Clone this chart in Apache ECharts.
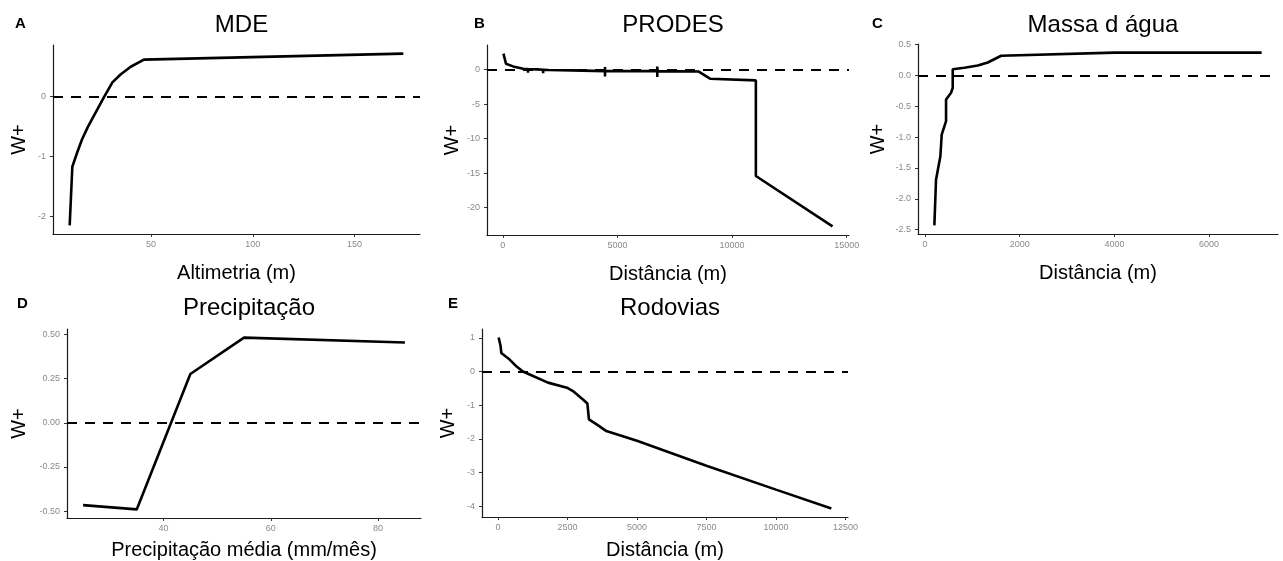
<!DOCTYPE html>
<html><head><meta charset="utf-8">
<script src="https://cdn.jsdelivr.net/npm/echarts@6/dist/echarts.min.js"></script>
<style>html,body{margin:0;padding:0;background:#fff}#c{width:1283px;height:561px}</style>
</head><body><div id="c"></div>
<script>
const FONT = "'Liberation Sans', Arial, sans-serif";

// ---- text ----
const panelLetters = ['A', 'B', 'C', 'D', 'E'];
const panelTitles = ['MDE', 'PRODES', 'Massa d água', 'Precipitação', 'Rodovias'];
const xTitles = ['Altimetria (m)', 'Distância (m)', 'Distância (m)', 'Precipitação média (mm/mês)', 'Distância (m)'];
const yTitle = 'W+';

// ---- data ----
const mdeX = [10, 11.3, 13.5, 16, 19, 23, 27, 31, 35, 40, 46.5, 174];
const mdeY = [-2.15, -1.17, -0.95, -0.72, -0.5, -0.25, 0, 0.24, 0.37, 0.5, 0.62, 0.72];

const prodesX = [30, 140, 200, 450, 890, 1100, 1100, 1100, 1500, 1760, 1760, 1760, 2000, 3000, 4460, 4460, 4460, 4460, 5500, 6740, 6740, 6740, 6740, 8530, 9040, 11040, 11040, 14385];
const prodesY = [2.33, 0.87, 0.6, 0.48, 0.15, 0.1, -0.45, 0.1, 0.05, 0, -0.5, 0, -0.05, -0.1, -0.2, 0.38, -0.98, -0.2, -0.2, -0.2, 0.48, -1.07, -0.2, -0.25, -1.3, -1.55, -15.4, -22.7];

const aguaX = [197, 232, 324, 352, 444, 444, 550, 585, 585, 831, 1114, 1325, 1608, 4006, 7110];
const aguaY = [-2.43, -1.69, -1.31, -0.96, -0.74, -0.39, -0.28, -0.2, 0.1, 0.125, 0.16, 0.21, 0.32, 0.37, 0.37];

const precX = [25, 35, 45, 55, 85];
const precY = [-0.466, -0.49, 0.276, 0.482, 0.454];

const rodX = [25, 97, 121, 421, 683, 899, 1140, 1799, 2482, 2698, 3057, 3216, 3273, 3550, 3899, 5000, 7500, 10000, 11993];
const rodY = [1.01, 0.75, 0.55, 0.355, 0.14, 0, -0.09, -0.33, -0.48, -0.58, -0.83, -0.95, -1.42, -1.57, -1.77, -2.06, -2.8, -3.51, -4.07];

// ---- tick labels ----
const mdeTicksX = [50, 100, 150];
const mdeTicksY = [-2, -1, 0];
const prodesTicksX = [0, 5000, 10000, 15000];
const prodesTicksY = [-20, -15, -10, -5, 0];
const aguaTicksX = [0, 2000, 4000, 6000];
const aguaTicksY = [-2.5, -2.0, -1.5, -1.0, -0.5, 0.0, 0.5];
const precTicksX = [40, 60, 80];
const precTicksY = [-0.5, -0.25, 0, 0.25, 0.5];
const rodTicksX = [0, 2500, 5000, 7500, 10000, 12500];
const rodTicksY = [-4, -3, -2, -1, 0, 1];

const panels = [
  {x: mdeX, y: mdeY, tx: mdeTicksX, ty: mdeTicksY, yDec: 0, grid: {left: 53, top: 45, width: 367, height: 189}, yGap: 24, xGap: 29},
  {x: prodesX, y: prodesY, tx: prodesTicksX, ty: prodesTicksY, yDec: 0, grid: {left: 487, top: 45, width: 362, height: 190}, yGap: 25, xGap: 29},
  {x: aguaX, y: aguaY, tx: aguaTicksX, ty: aguaTicksY, yDec: 1, grid: {left: 918, top: 44, width: 360, height: 190}, yGap: 30, xGap: 29},
  {x: precX, y: precY, tx: precTicksX, ty: precTicksY, yDec: 2, grid: {left: 67, top: 329, width: 354, height: 189}, yGap: 38, xGap: 22},
  {x: rodX, y: rodY, tx: rodTicksX, ty: rodTicksY, yDec: 0, grid: {left: 482, top: 329, width: 366, height: 188}, yGap: 24, xGap: 23}
];
const letterPos = [[10, 11], [469, 11], [867, 11], [12, 291], [443, 291]];

function expand(arr, include0) {
  let mn = Math.min(...arr), mx = Math.max(...arr);
  if (include0) { mn = Math.min(mn, 0); mx = Math.max(mx, 0); }
  const p = (mx - mn) * 0.05;
  return [mn - p, mx + p];
}

const grids = [], xAxes = [], yAxes = [], series = [], titles = [];
panels.forEach((p, i) => {
  grids.push(Object.assign({containLabel: false, outerBoundsMode: 'none'}, p.grid));
  const xr = expand(p.x, false), yr = expand(p.y, true);
  const common = {
    type: 'value', gridIndex: i, splitLine: {show: false},
    axisLine: {show: true, onZero: false, lineStyle: {color: '#1a1a1a', width: 1.2}},
    nameTextStyle: {fontSize: 20, color: '#000', fontFamily: FONT},
    nameLocation: 'middle'
  };
  xAxes.push(Object.assign({}, common, {
    min: xr[0], max: xr[1], name: xTitles[i], nameGap: p.xGap,
    axisTick: {show: true, customValues: p.tx, length: 3, lineStyle: {color: '#333', width: 1}},
    axisLabel: {customValues: p.tx, fontSize: 9, color: '#8a8a8a', margin: 6, fontFamily: FONT,
      formatter: v => String(v)}
  }));
  yAxes.push(Object.assign({}, common, {
    min: yr[0], max: yr[1], name: yTitle, nameGap: p.yGap,
    axisTick: {show: true, customValues: p.ty, length: 3, lineStyle: {color: '#333', width: 1}},
    axisLabel: {customValues: p.ty, fontSize: 9, color: '#8a8a8a', margin: 7, fontFamily: FONT,
      formatter: v => Number(v).toFixed(p.yDec)}
  }));
  series.push({
    type: 'line', xAxisIndex: i, yAxisIndex: i, showSymbol: false, symbol: 'none',
    data: p.x.map((v, k) => [v, p.y[k]]),
    lineStyle: {color: '#000', width: 2.6}, clip: true, silent: true,
    markLine: {silent: true, symbol: 'none', animation: false,
      lineStyle: {color: '#000', width: 2, type: [10, 8]},
      label: {show: false}, data: [{yAxis: 0}]}
  });
  const cx = p.grid.left + p.grid.width / 2;
  titles.push({text: panelTitles[i], left: cx, top: (i < 3 ? 8 : 291), textAlign: 'center',
    textStyle: {fontSize: 24, fontWeight: 'normal', color: '#000', fontFamily: FONT}});
  titles.push({text: panelLetters[i], left: letterPos[i][0], top: letterPos[i][1],
    textStyle: {fontSize: 15, fontWeight: 'bold', color: '#000', fontFamily: FONT}});
});

const chart = echarts.init(document.getElementById('c'), null, {renderer: 'canvas'});
chart.setOption({
  animation: false,
  backgroundColor: '#fff',
  title: titles,
  grid: grids, xAxis: xAxes, yAxis: yAxes, series: series
});
</script></body></html>
